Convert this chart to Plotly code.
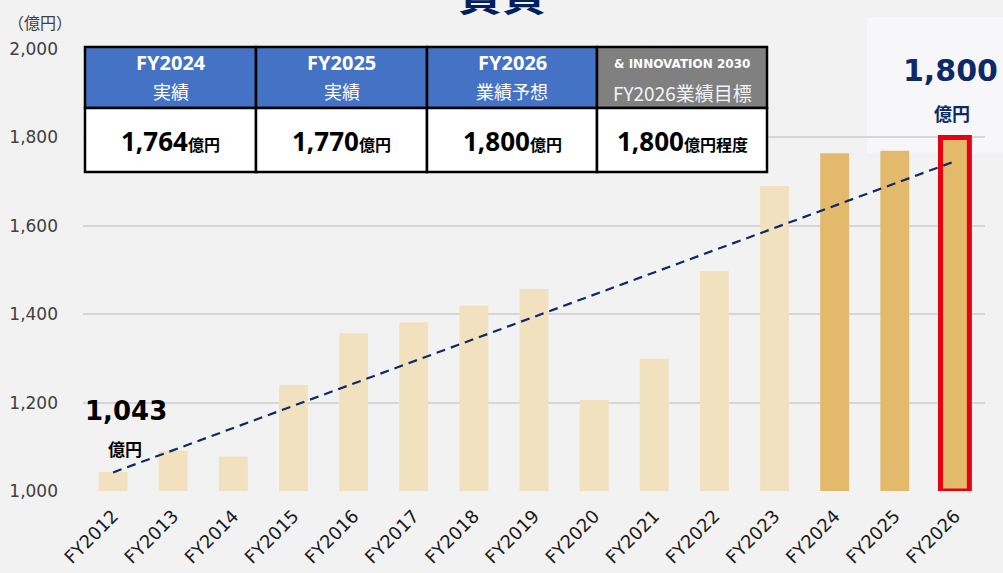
import plotly.graph_objects as go

# ---------------- data ----------------
categories = ["FY2012", "FY2013", "FY2014", "FY2015", "FY2016", "FY2017", "FY2018",
              "FY2019", "FY2020", "FY2021", "FY2022", "FY2023", "FY2024", "FY2025", "FY2026"]
values = [1043, 1091, 1078, 1240, 1357, 1382, 1419, 1457, 1206, 1299, 1498, 1690, 1764, 1770, 1800]
highlight = [False] * 12 + [True, True, True]
trend_x = ["FY2012", "FY2026"]
trend_y = [1042, 1746]

y_ticks = [1000, 1200, 1400, 1600, 1800, 2000]
y_tick_text = ["1,000", "1,200", "1,400", "1,600", "1,800", "2,000"]

table_head1 = ["FY2024", "FY2025", "FY2026", "& INNOVATION 2030"]
table_head2 = ["実績", "実績", "業績予想", "FY2026業績目標"]
table_num = ["1,764", "1,770", "1,800", "1,800"]
table_unit = ["億円", "億円", "億円", "億円程度"]

title_text = "賃貸"
unit_label = "（億円）"
first_label = "1,043"
last_label = "1,800"
unit_short = "億円"

# ---------------- styling ----------------
BG = "#F2F2F2"
LIGHT = "#F2E1BF"
DARK = "#E3BA6C"
NAVY = "#0D2A66"
RED = "#E60012"
GRID = "#D6D6D6"

W, H = 1003, 573
L, R, T, B = 83, 18, 49, 82
PW, PH = W - L - R, H - T - B


def px_x(p):
    return (p - L) / PW


def px_y(p):
    return (H - B - p) / PH


base = y_ticks[0]
fig = go.Figure()

fig.add_trace(go.Bar(
    x=categories,
    y=[v - base for v in values],
    base=base,
    width=0.48,
    marker=dict(
        color=[DARK if h else LIGHT for h in highlight],
        line=dict(color=[RED if c == "FY2026" else "rgba(0,0,0,0)" for c in categories],
                  width=[5 if c == "FY2026" else 0 for c in categories]),
    ),
    cliponaxis=False,
    hoverinfo="skip",
    showlegend=False,
))

fig.add_trace(go.Scatter(
    x=trend_x, y=trend_y, mode="lines",
    line=dict(color=NAVY, width=2.2, dash="9px,6px"),
    hoverinfo="skip", showlegend=False,
))

shapes = []
annotations = []

# light box behind the FY2026 label
shapes.append(dict(type="rect", xref="paper", yref="paper", layer="below",
                   x0=px_x(867), x1=px_x(1003), y0=px_y(153), y1=px_y(17),
                   fillcolor="#F7F7F9", line=dict(width=0)))

# table
col_edges = [85, 256, 427, 597, 767]
row_edges = [47, 108, 172]
for i in range(4):
    x0, x1 = col_edges[i], col_edges[i + 1]
    head_fill = "#808080" if i == 3 else "#4472C4"
    shapes.append(dict(type="rect", xref="paper", yref="paper", layer="above",
                       x0=px_x(x0), x1=px_x(x1), y0=px_y(row_edges[1]), y1=px_y(row_edges[0]),
                       fillcolor=head_fill, line=dict(color="#000000", width=2.5)))
    shapes.append(dict(type="rect", xref="paper", yref="paper", layer="above",
                       x0=px_x(x0), x1=px_x(x1), y0=px_y(row_edges[2]), y1=px_y(row_edges[1]),
                       fillcolor="#FFFFFF", line=dict(color="#000000", width=2.5)))
    cx = px_x((x0 + x1) / 2)
    if i == 3:
        annotations.append(dict(xref="paper", yref="paper", x=cx, y=px_y(64), text=f"<b>{table_head1[i]}</b>",
                                showarrow=False, xanchor="center", yanchor="middle",
                                font=dict(family="DejaVu Sans", size=12, color="#FFFFFF")))
        annotations.append(dict(xref="paper", yref="paper", x=cx, y=px_y(92), text=table_head2[i],
                                showarrow=False, xanchor="center", yanchor="middle",
                                font=dict(family="Noto Sans CJK JP", size=19, color="#F4F4F4")))
    else:
        annotations.append(dict(xref="paper", yref="paper", x=cx, y=px_y(62), text=f"<b>{table_head1[i]}</b>",
                                showarrow=False, xanchor="center", yanchor="middle",
                                font=dict(family="Noto Sans", size=20, color="#FFFFFF")))
        annotations.append(dict(xref="paper", yref="paper", x=cx, y=px_y(91), text=table_head2[i],
                                showarrow=False, xanchor="center", yanchor="middle",
                                font=dict(family="Noto Sans CJK JP", size=18, color="#FFFFFF")))
    annotations.append(dict(xref="paper", yref="paper", x=cx, y=px_y(141),
                            text=f"<b>{table_num[i]}</b><b><span style='font-size:16px'>{table_unit[i]}</span></b>",
                            showarrow=False, xanchor="center", yanchor="middle",
                            font=dict(family="Noto Sans, Noto Sans CJK JP", size=26, color="#000000")))

# title (mostly above the visible page)
annotations.append(dict(xref="paper", yref="paper", x=px_x(502), y=px_y(-8), text=f"<b>{title_text}</b>",
                        showarrow=False, xanchor="center", yanchor="middle",
                        font=dict(family="Noto Sans CJK JP", size=44, color="#002060")))
# unit label
annotations.append(dict(xref="paper", yref="paper", x=px_x(6), y=px_y(22), text=unit_label,
                        showarrow=False, xanchor="left", yanchor="middle",
                        font=dict(family="Noto Sans CJK JP", size=16, color="#404040")))

# first / last value labels
annotations.append(dict(x=categories[0], y=values[0], xref="x", yref="y", text=f"<b>{first_label}</b>",
                        showarrow=False, xanchor="center", yanchor="middle", xshift=13, yshift=61,
                        font=dict(family="DejaVu Sans", size=26, color="#000000")))
annotations.append(dict(x=categories[0], y=values[0], xref="x", yref="y", text=f"<b>{unit_short}</b>",
                        showarrow=False, xanchor="center", yanchor="middle", xshift=12, yshift=23,
                        font=dict(family="Noto Sans CJK JP", size=17, color="#000000")))
annotations.append(dict(x=categories[-1], y=values[-1], xref="x", yref="y", text=f"<b>{last_label}</b>",
                        showarrow=False, xanchor="center", yanchor="middle", xshift=-4, yshift=67,
                        font=dict(family="DejaVu Sans", size=30, color="#0D2A66")))
annotations.append(dict(x=categories[-1], y=values[-1], xref="x", yref="y", text=f"<b>{unit_short}</b>",
                        showarrow=False, xanchor="center", yanchor="middle", xshift=-3, yshift=24,
                        font=dict(family="Noto Sans CJK JP", size=18, color="#0D2A66")))

fig.update_layout(
    width=W, height=H,
    margin=dict(l=L, r=R, t=T, b=B, autoexpand=False),
    paper_bgcolor=BG, plot_bgcolor=BG,
    shapes=shapes, annotations=annotations,
    bargap=0.52,
    xaxis=dict(type="category", categoryorder="array", categoryarray=categories,
               tickangle=-45, tickfont=dict(family="DejaVu Sans", size=18, color="#1A1A1A"),
               showgrid=False, showline=False, ticks="", ticklabelstandoff=10,
               range=[-0.5, len(categories) - 0.5], fixedrange=True),
    yaxis=dict(range=[y_ticks[0], y_ticks[-1]], tickvals=y_ticks, ticktext=y_tick_text,
               tickfont=dict(family="DejaVu Sans", size=17, color="#404040"),
               showgrid=True, gridcolor=GRID, gridwidth=1.6, zeroline=False,
               showline=False, ticks="", ticklabelstandoff=24, fixedrange=True),
)

fig.write_html(
    "out.html",
    config={"displayModeBar": False},
    post_script="document.body.style.margin='0';document.body.style.background='#F2F2F2';"
                "document.body.style.overflow='hidden';",
)
